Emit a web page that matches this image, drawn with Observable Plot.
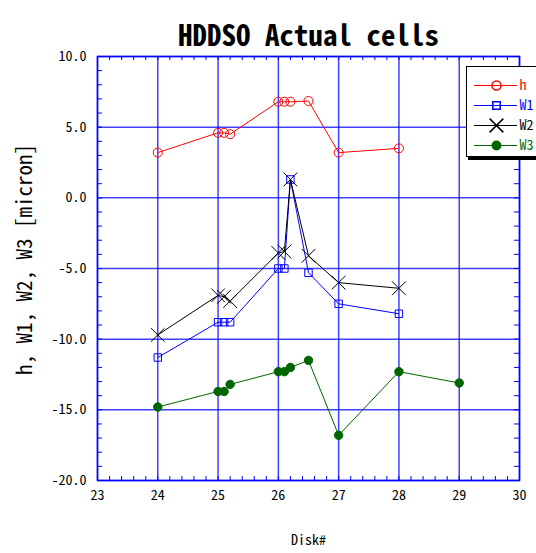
<!DOCTYPE html>
<html><head><meta charset="utf-8">
<script src="https://cdn.jsdelivr.net/npm/d3@7"></script>
<script src="https://cdn.jsdelivr.net/npm/@observablehq/plot@0.6"></script>
<style>
body{margin:0;background:#fff;}
#wrap{position:relative;width:536px;height:553px;overflow:hidden;background:#fff;}
#legend{position:absolute;left:466px;top:66px;width:80px;height:89px;background:#fff;border:1px solid #000;box-shadow:2px 3px 0 #000;}
#legend svg, #chart svg{display:block;}
</style></head><body>
<div id="wrap"><div id="chart"></div><div id="legend"></div></div>
<script>
const titleText = "HDDSO Actual cells";
const xLabel = "Disk#";
const yLabel = "h, W1, W2, W3 [micron]";
const seriesNames = ["h", "W1", "W2", "W3"];
const seriesColors = ["#ff0000", "#0000ff", "#000000", "#006400"];
const seriesSymbols = ["circle", "square", "times", "circle"];

const disk = [24, 25, 25.1, 25.2, 26, 26.1, 26.2, 26.5, 27, 28];
const hVals = [3.2, 4.6, 4.6, 4.5, 6.8, 6.8, 6.8, 6.85, 3.2, 3.5];
const w1Vals = [-11.3, -8.8, -8.8, -8.8, -5.0, -5.0, 1.3, -5.3, -7.5, -8.2];
const w2Vals = [-9.7, -6.9, -7.0, -7.3, -3.9, -3.8, 1.3, -4.1, -6.0, -6.4];
const diskW3 = [24, 25, 25.1, 25.2, 26, 26.1, 26.2, 26.5, 27, 28, 29];
const w3Vals = [-14.8, -13.7, -13.7, -13.2, -12.3, -12.3, -12.0, -11.5, -16.8, -12.3, -13.1];

const xTicks = [23, 24, 25, 26, 27, 28, 29, 30];
const yTicks = [-20, -15, -10, -5, 0, 5, 10];
const xMinor = d3.range(115, 151).map(d => d / 5);
const yMinor = d3.range(-20, 11);

const FONT = '"Noto Sans Mono CJK JP", "DejaVu Sans Mono", monospace';
const blue = "#0000ff";
const W = 536, H = 553, ML = 97, MR = 17, MT = 56, MB = 73;
const pw = W - ML - MR, ph = H - MT - MB;

const mk = (name, xs, ys) => xs.map((x, i) => ({series: name, disk: x, v: ys[i]}));
const seriesData = [
  mk("h", disk, hVals),
  mk("W1", disk, w1Vals),
  mk("W2", disk, w2Vals),
  mk("W3", diskW3, w3Vals)
];
const dotStyle = [
  {r: 4.5, fill: "none"},
  {r: 4.2, fill: "none"},
  {r: 6.3, fill: "none"},
  {r: 4.2, fill: seriesColors[3]}
];

const seriesMarks = seriesData.flatMap((data, i) => [
  Plot.line(data, {x: "disk", y: "v", stroke: seriesColors[i], strokeWidth: 1}),
  Plot.dot(data, {x: "disk", y: "v", symbol: seriesSymbols[i], r: dotStyle[i].r,
    stroke: seriesColors[i], fill: dotStyle[i].fill, strokeWidth: 1})
]);

const chart = Plot.plot({
  width: W, height: H,
  marginLeft: ML, marginRight: MR, marginTop: MT, marginBottom: MB,
  style: {fontFamily: FONT, background: "white", color: "black", overflow: "visible"},
  x: {domain: [23, 30]},
  y: {domain: [-20, 10]},
  marks: [
    Plot.ruleX(xTicks, {x: d => d, stroke: blue, strokeWidth: 1.5, strokeOpacity: 0.75}),
    Plot.ruleY(yTicks, {y: d => d, stroke: blue, strokeWidth: 1.5, strokeOpacity: 0.75}),
    Plot.tickY(yMinor, {y: d => d, stroke: blue, insetRight: pw - 5}),
    Plot.tickY(yMinor, {y: d => d, stroke: blue, insetLeft: pw - 5}),
    Plot.tickX(xMinor, {x: d => d, stroke: blue, insetTop: ph - 4}),
    Plot.tickX(xMinor, {x: d => d, stroke: blue, insetBottom: ph - 4}),
    Plot.frame({stroke: blue, strokeWidth: 1.5}),
    Plot.axisX(xTicks, {tickSize: 0, tickPadding: 10, fontSize: 14, label: null}),
    Plot.axisY(yTicks, {tickSize: 0, tickPadding: 11, fontSize: 14, label: null, tickFormat: d => d.toFixed(1)}),
    ...seriesMarks,
    Plot.text([titleText], {text: d => d, frameAnchor: "top", dy: -31, fontSize: 29, fontWeight: "bold"}),
    Plot.text([yLabel], {text: d => d, frameAnchor: "left", textAnchor: "middle", dx: -72, dy: -9, rotate: -90, fontSize: 21}),
    Plot.text([xLabel], {text: d => d, frameAnchor: "bottom", dy: 64, fontSize: 14})
  ]
});
document.getElementById("chart").appendChild(chart);

const legend = Plot.plot({
  width: 80, height: 89,
  marginLeft: 0, marginRight: 0, marginTop: 17, marginBottom: 11,
  style: {fontFamily: FONT, background: "white", color: "black"},
  x: {axis: null},
  y: {type: "point", domain: seriesNames, axis: null, padding: 0},
  color: {type: "ordinal", domain: seriesNames, range: seriesColors},
  marks: [
    Plot.ruleY(seriesNames, {y: d => d, stroke: d => d, insetLeft: 7, insetRight: 30}),
    ...seriesNames.map((name, i) => Plot.dot([name], {y: d => d, frameAnchor: "left", dx: 29,
      symbol: seriesSymbols[i], r: dotStyle[i].r, stroke: seriesColors[i], fill: dotStyle[i].fill})),
    Plot.text(seriesNames, {y: d => d, text: d => d, frameAnchor: "left", dx: 52, textAnchor: "start",
      fill: d => d, fontSize: 14})
  ]
});
document.getElementById("legend").appendChild(legend);
</script>
</body></html>
